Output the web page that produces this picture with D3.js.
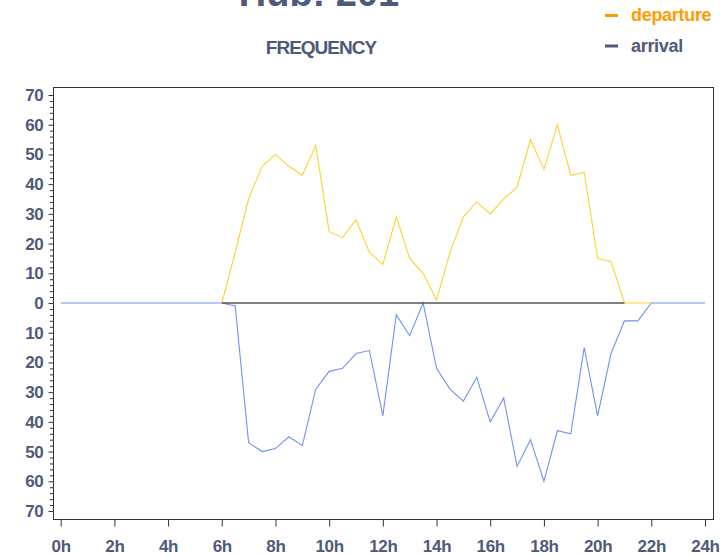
<!DOCTYPE html>
<html>
<head>
<meta charset="utf-8">
<script src="https://cdn.jsdelivr.net/npm/d3@7"></script>
<style>
  html, body { margin: 0; padding: 0; background: #fff; }
  svg { display: block; font-family: "Liberation Sans", Arial, Helvetica, sans-serif; }
</style>
</head>
<body>
<svg id="chart" width="725" height="556"></svg>
<script>
// ---- data ----
const departureHours = [6,6.5,7,7.5,8,8.5,9,9.5,10,10.5,11,11.5,12,12.5,13,13.5,14,14.5,15,15.5,16,16.5,17,17.5,18,18.5,19,19.5,20,20.5,21,21.5,22];
const departureValues = [0,17,35,46,50,46,43,53,24,22,28,17,13,29,15,10,1,17,29,34,30,35,39,55,45,60,43,44,15,14,0,0,0];

const arrivalHours = [0,0.5,1,1.5,2,2.5,3,3.5,4,4.5,5,5.5,6,6.5,7,7.5,8,8.5,9,9.5,10,10.5,11,11.5,12,12.5,13,13.5,14,14.5,15,15.5,16,16.5,17,17.5,18,18.5,19,19.5,20,20.5,21,21.5,22,22.5,23,23.5,24];
const arrivalValues = [0,0,0,0,0,0,0,0,0,0,0,0,0,-1,-47,-50,-49,-45,-48,-29,-23,-22,-17,-16,-38,-4,-11,0,-22,-29,-33,-25,-40,-32,-55,-46,-60,-43,-44,-15,-38,-17,-6,-6,0,0,0,0,0];

const baselineHours = [6, 21];
const xTicks = [0,2,4,6,8,10,12,14,16,18,20,22,24];
const yMajorTicks = [-70,-60,-50,-40,-30,-20,-10,0,10,20,30,40,50,60,70];
const seriesNames = ["departure", "arrival"];
const titleText = "Hub: 201";
const subtitleText = "FREQUENCY";

// ---- styles ----
const textColor = "#4f5a7a";
const depColor = "#ffd22e";
const arrColor = "#7392ec";
const depLegendColor = "#ff9c00";
const arrLegendColor = "#4f5a7a";

const svg = d3.select("#chart");

const frame = { left: 53, top: 87, right: 713, bottom: 519 };
const x = d3.scaleLinear().domain([0, 24]).range([60.7, 705]);
const y = d3.scaleLinear().domain([-70, 70]).range([511, 95]);

// frame
svg.append("rect")
  .attr("x", frame.left + 0.5).attr("y", frame.top + 0.5)
  .attr("width", frame.right - frame.left).attr("height", frame.bottom - frame.top)
  .attr("fill", "none").attr("stroke", "#333").attr("stroke-width", 1);

// y axis
const yMinor = d3.range(-70, 71, 2);
const yAxis = d3.axisLeft(y).tickValues(yMajorTicks)
  .tickFormat(d => Math.abs(d)).tickSize(5).tickPadding(5);
const yg = svg.append("g").attr("transform", `translate(${frame.left + 0.5},0)`).call(yAxis);
yg.select(".domain").remove();
yg.selectAll(".tick line").attr("stroke", "#333");
yg.selectAll(".tick text").attr("fill", textColor)
  .style("font-size", "17px").style("font-weight", "bold")
  .style("font-family", "'Liberation Sans', Arial, sans-serif").attr("letter-spacing", "-0.3");
const yMinorAxis = d3.axisLeft(y).tickValues(yMinor.filter(v => v % 10 !== 0))
  .tickFormat("").tickSize(3.5);
const ymg = svg.append("g").attr("transform", `translate(${frame.left + 0.5},0)`).call(yMinorAxis);
ymg.select(".domain").remove();
ymg.selectAll(".tick line").attr("stroke", "#333");

// x axis
const xAxis = d3.axisBottom(x).tickValues(xTicks)
  .tickFormat(d => d + "h").tickSize(7).tickPadding(13);
const xg = svg.append("g").attr("transform", `translate(0,${frame.bottom + 0.5})`).call(xAxis);
xg.select(".domain").remove();
xg.selectAll(".tick line").attr("stroke", "#333");
xg.selectAll(".tick text").attr("fill", textColor)
  .style("font-size", "17px").style("font-weight", "bold")
  .style("font-family", "'Liberation Sans', Arial, sans-serif").attr("letter-spacing", "-0.3");

// lines
const line = d3.line().x(d => x(d[0])).y(d => y(d[1]));
svg.append("path")
  .datum(d3.zip(arrivalHours, arrivalValues))
  .attr("d", line).attr("fill", "none").attr("stroke", arrColor).attr("stroke-width", 1.1);
svg.append("path")
  .datum(d3.zip(departureHours, departureValues))
  .attr("d", line).attr("fill", "none").attr("stroke", depColor).attr("stroke-width", 1.1);
svg.append("path")
  .datum(baselineHours.map(h => [h, 0]))
  .attr("d", line).attr("fill", "none").attr("stroke", "#555").attr("stroke-width", 1.6);

// title (cut off at top, as in the reference)
svg.append("text").attr("x", 319).attr("y", 6).attr("text-anchor", "middle")
  .attr("fill", textColor).style("font-size", "38px").style("font-weight", "bold")
  .text(titleText);
svg.append("text").attr("x", 321).attr("y", 54).attr("text-anchor", "middle")
  .attr("fill", textColor).style("font-size", "19px").style("font-weight", "bold")
  .attr("letter-spacing", "-1")
  .text(subtitleText);

// legend
const legendColors = [depLegendColor, arrLegendColor];
const legendY = [15.5, 46];
seriesNames.forEach((name, i) => {
  svg.append("line").attr("x1", 605).attr("x2", 618)
    .attr("y1", legendY[i]).attr("y2", legendY[i])
    .attr("stroke", legendColors[i]).attr("stroke-width", 3);
  svg.append("text").attr("x", 631).attr("y", legendY[i] + 5.5)
    .attr("fill", legendColors[i]).style("font-size", "18px").style("font-weight", "bold")
    .attr("letter-spacing", "-0.3")
    .text(name);
});
</script>
</body>
</html>
